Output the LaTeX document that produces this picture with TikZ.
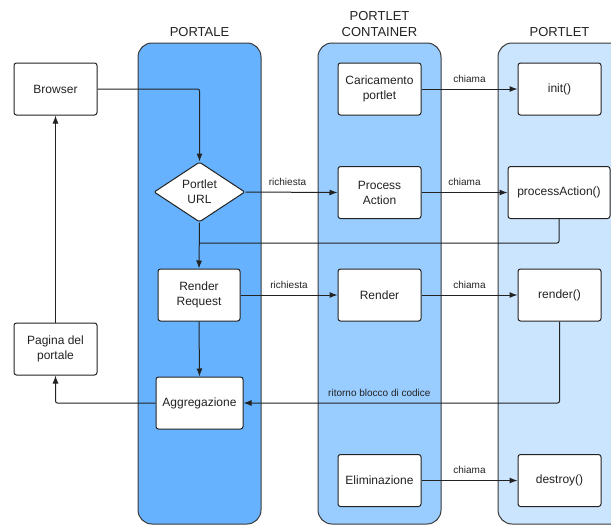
\documentclass[tikz,border=0pt]{standalone}
\usepackage{fontspec}
\setmainfont{Liberation Sans}
\usetikzlibrary{shapes.geometric,arrows.meta}
\definecolor{laneA}{HTML}{66B2FF}
\definecolor{laneB}{HTML}{99CCFF}
\definecolor{laneC}{HTML}{CCE5FF}
\definecolor{ink}{HTML}{222222}
\definecolor{laneline}{HTML}{3A3A3A}
\begin{document}
\begin{tikzpicture}[x=1pt,y=-1pt,
  lane/.style={draw=laneline, line width=1pt, rounded corners=14pt},
  box/.style={draw=ink, fill=white, line width=1pt, rounded corners=2.5pt,
    minimum width=83pt, minimum height=52pt, align=center,
    font=\fontsize{12}{15}\selectfont, text=ink, inner sep=0pt},
  dia/.style={diamond, draw=ink, fill=white, line width=1pt, rounded corners=1.5pt,
    minimum width=91pt, minimum height=60pt, aspect=1.5, inner sep=0pt,
    align=center, font=\fontsize{12}{15}\selectfont, text=ink},
  title/.style={font=\fontsize{13}{16}\selectfont, align=center, text=ink, inner sep=0pt},
  lbl/.style={font=\fontsize{10}{12}\selectfont, text=ink, inner sep=0pt},
  conn/.style={draw=ink, line width=1pt, rounded corners=2pt},
  arr/.style={conn, -{Latex[length=8pt,width=6pt]}}]
\useasboundingbox (0,0) rectangle (611,525);
\clip (0,0) rectangle (611,525);
% lanes
\path[lane, fill=laneA] (138,43) rectangle (261,524);
\path[lane, fill=laneB] (318,43) rectangle (441,524);
\path[lane, fill=laneC] (498,43) rectangle (650,524);
\node[title] (tA) at (199.5,32) {PORTALE};
\node[title] (tB) at (379.5,24) {PORTLET\\CONTAINER};
\node[title] (tC) at (559.5,32) {PORTLET};
% nodes
\node[box] (browser) at (55.5,89) {Browser};
\node[box] (pagina) at (55.5,349) {Pagina del\\portale};
\node[dia] (url) at (199.5,192) {Portlet\\URL};
\node[box, minimum width=82pt] (rr) at (199,295) {Render\\Request};
\node[box, minimum width=87pt] (agg) at (199.5,403) {Aggregazione};
\node[box] (car) at (379.5,89) {Caricamento\\portlet};
\node[box] (pact) at (379.5,192.5) {Process\\Action};
\node[box] (ren) at (379.5,295) {Render};
\node[box] (eli) at (379.5,480.5) {Eliminazione};
\node[box] (init) at (559.5,89) {init()};
\node[box, minimum width=102pt] (pa) at (559,192.5) {processAction()};
\node[box] (rend) at (559.5,295) {render()};
\node[box] (des) at (559.5,480.5) {destroy()};
\coordinate (j) at (199.5,243);
% connectors
\draw[arr] (browser.east) -| (url.north);
\draw[arr] (url.east) -- node[lbl, midway, above=6pt, xshift=-4pt] (l1) {richiesta} (pact.west);
\draw[arr] (url.south) -- (rr.north);
\draw[conn] (pa.south) |- (j);
\draw[arr] (rr.east) -- node[lbl, midway, above=6pt] (l2) {richiesta} (ren.west);
\draw[arr] (rr.south) -- (agg.north);
\draw[arr] (rend.south) |- node[lbl, pos=0.785, above=6pt] (l3) {ritorno blocco di codice} (agg.east);
\draw[arr] (agg.west) -| (pagina.south);
\draw[arr] (pagina.north) -- (browser.south);
\draw[arr] (car.east) -- node[lbl, midway, above=6pt] (c1) {chiama} (init.west);
\draw[arr] (pact.east) -- node[lbl, midway, above=6pt] (c2) {chiama} (pa.west);
\draw[arr] (ren.east) -- node[lbl, midway, above=6pt] (c3) {chiama} (rend.west);
\draw[arr] (eli.east) -- node[lbl, midway, above=6pt] (c4) {chiama} (des.west);
\end{tikzpicture}
\end{document}
